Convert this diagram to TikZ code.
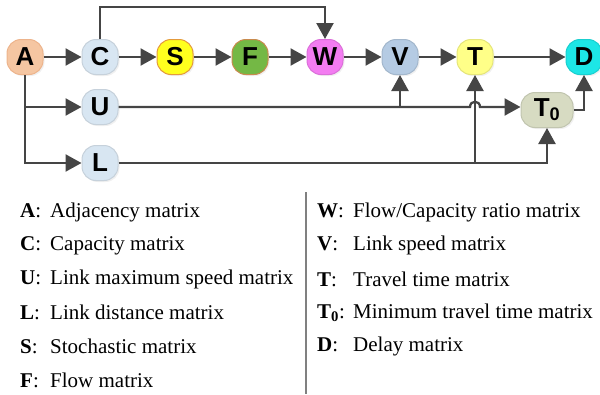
\documentclass[tikz,border=0pt]{standalone}
\usepackage{fontspec}
\setmainfont{Liberation Serif}
\setsansfont{Liberation Sans}
\usetikzlibrary{arrows.meta,shadows}

\definecolor{lineGray}{HTML}{454545}
\definecolor{peach}{HTML}{F5C6A2}
\definecolor{peachBd}{HTML}{EDB48C}
\definecolor{paleBlue}{HTML}{D8E6F2}
\definecolor{steel}{HTML}{B5CBE3}
\definecolor{lemon}{HTML}{FFFF1E}
\definecolor{lemonBd}{HTML}{E49A3C}
\definecolor{leaf}{HTML}{74B845}
\definecolor{leafBd}{HTML}{C98A4E}
\definecolor{pink}{HTML}{F37CF1}
\definecolor{cream}{HTML}{FFFF88}
\definecolor{aqua}{HTML}{1DE6E6}
\definecolor{sage}{HTML}{D7DBC2}

\begin{document}
\begin{tikzpicture}[
x=1pt,y=-1pt,
mat/.style 2 args={
  fill=#1,
  draw=#2,
  line width=1pt,
  rounded corners=14pt,
  minimum width=36pt,
  minimum height=35pt,
  inner sep=0pt,
  font=\sffamily\bfseries\fontsize{26}{26}\selectfont,
  drop shadow={opacity=0.12,shadow xshift=1.5pt,shadow yshift=-1.5pt}
  },
arr/.style={
  draw=lineGray,
  line width=2.3pt,
  -{Triangle[length=16pt,width=17pt]}
  },
legend/.style={
  anchor=west,
  inner sep=0pt,
  font=\fontsize{21}{21}\selectfont
  }
]
\useasboundingbox (0,0) rectangle (600,394);

% matrices
\node[mat={peach}{peachBd}] (A) at (25,57) {A};
\node[mat={paleBlue}{paleBlue!80!gray}] (C) at (100,57) {C};
\node[mat={lemon}{lemonBd}] (S) at (175,57) {S};
\node[mat={leaf}{leafBd}] (F) at (250,57) {F};
\node[mat={pink}{pink!90!black}] (W) at (325,57) {W};
\node[mat={steel}{steel!90!black}] (V) at (400,57) {V};
\node[mat={cream}{cream!90!black}] (T) at (475,57) {T};
\node[mat={aqua}{aqua!90!black}] (D) at (584,57) {D};
\node[mat={paleBlue}{paleBlue!80!gray}] (U) at (100,107) {U};
\node[mat={paleBlue}{paleBlue!80!gray}] (L) at (100,163) {L};
\node[mat={sage}{sage!90!black},minimum width=52pt] (T0) at (547,110) {T\textsubscript{0}};

\coordinate (top) at (0,7);

\foreach \from/\to in {A/C,C/S,S/F,F/W,W/V,V/T,T/D}
  \draw[arr] (\from) -- (\to);

\draw[arr] (C.north) -- (C.north |- top) -| (W.north);
\draw[arr] (A.south) |- (L.west);
\draw[arr] (A.south |- U) -- (U.west);

% U line, hopping over the T branch
\draw[arr] (U.east) -- ([xshift=-5pt]T.south |- U)
  .. controls +(0,-7) and +(0,-7) .. ([xshift=5pt]T.south |- U) -- (T0.west |- U);
\draw[arr] (V.south |- U) -- (V.south);

\draw[arr] (L.east) -| (T0.south);
\draw[arr] (T.south |- L) -- (T.south);
\draw[arr] (T0.east) -| (D.south);

% legend
\foreach \k/\t [count=\i] in {A/Adjacency matrix,C/Capacity matrix,
    U/Link maximum speed matrix,L/Link distance matrix,
    S/Stochastic matrix,F/Flow matrix}
  \node[legend] (keyL\i) at (20,212+33.6*\i-33.6)
    {\makebox[30pt][l]{\textbf{\k}:}\t};

\foreach \k/\t [count=\i] in {W/{Flow/Capacity ratio matrix},V/Link speed matrix,
    T/Travel time matrix,{T\textsubscript{0}}/Minimum travel time matrix,
    D/Delay matrix}
  \node[legend] (keyR\i) at (317,212+33.6*\i-33.6)
    {\makebox[36pt][l]{\textbf{\k}:}\t};

\draw[gray,line width=1.4pt] (306,192) -- (306,394);

\end{tikzpicture}
\end{document}
